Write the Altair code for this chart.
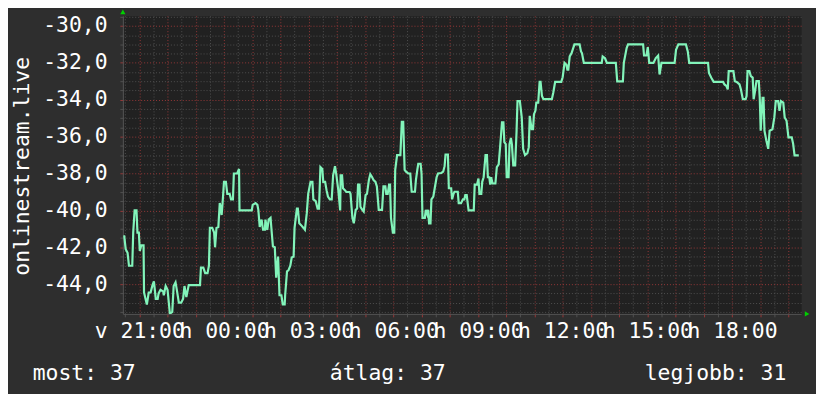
import altair as alt
import pandas as pd

# ---- data (minutes after 20:25 Sunday, value) ----
minutes = [
    1, 3, 6, 10, 13, 20, 22, 25, 29, 31, 34, 36, 39, 44, 45, 51, 55, 59, 63, 66,
    70, 74, 76, 80, 86, 87, 91, 95, 100, 105, 108, 112, 115, 119, 124, 128, 131, 135, 140, 164,
    166, 171, 175, 180, 183, 185, 190, 194, 196, 199, 203, 206, 208, 210, 212, 215, 219, 222, 227, 230,
    234, 236, 243, 247, 248, 274, 276, 282, 286, 288, 291, 293, 295, 298, 302, 303, 307, 310, 314, 316,
    319, 323, 326, 330, 333, 337, 340, 344, 345, 349, 352, 356, 359, 363, 365, 370, 372, 375, 379, 384,
    387, 391, 394, 399, 403, 405, 410, 414, 417, 420, 424, 426, 430, 433, 436, 440, 444, 447, 451, 454,
    458, 462, 463, 466, 468, 472, 475, 482, 484, 488, 491, 495, 498, 500, 503, 505, 509, 512, 516, 519,
    523, 526, 530, 533, 537, 540, 544, 551, 554, 558, 560, 563, 566, 568, 570, 574, 577, 579, 583, 590,
    593, 596, 599, 602, 607, 611, 614, 621, 623, 626, 628, 633, 635, 637, 642, 644, 647, 649, 651, 654,
    656, 660, 663, 667, 670, 677, 681, 684, 686, 691, 693, 698, 700, 703, 705, 712, 714, 719, 723, 726,
    728, 731, 734, 735, 746, 748, 753, 756, 758, 762, 764, 767, 771, 774, 776, 779, 781, 783, 786, 792,
    795, 799, 802, 806, 809, 811, 814, 816, 820, 822, 825, 827, 830, 834, 837, 839, 844, 848, 851, 855,
    860, 863, 865, 869, 872, 874, 877, 879, 883, 886, 888, 891, 894, 912, 915, 919, 932, 935, 939, 943,
    945, 947, 950, 954, 960, 971, 974, 976, 980, 1018, 1020, 1025, 1029, 1048, 1051, 1063, 1065, 1071, 1074, 1106,
    1108, 1113, 1116, 1119, 1128, 1133, 1138, 1141, 1145, 1173, 1176, 1181, 1197, 1201, 1204, 1244, 1246, 1251, 1256, 1276,
    1279, 1283, 1286, 1288, 1298, 1301, 1305, 1311, 1314, 1318, 1324, 1326, 1328, 1332, 1335, 1339, 1341, 1344, 1347, 1352,
    1354, 1356, 1360, 1362, 1364, 1368, 1372, 1375, 1381, 1385, 1388, 1393, 1396, 1399, 1404, 1407, 1411, 1415, 1422, 1425,
    1428, 1437,
]
values = [
    -41.4, -41.4, -42.1, -42.3, -43.0, -43.0, -41.2, -40.0, -40.0, -41.2, -41.2, -42.2, -41.9, -41.9, -44.45, -45.1, -44.45, -44.45, -44.05, -43.85,
    -44.8, -44.8, -44.5, -44.3, -44.4, -44.6, -44.1, -44.3, -45.6, -45.5, -44.1, -43.9, -44.35, -45.0, -45.0, -44.8, -44.1, -44.7, -44.05, -44.05,
    -43.1, -43.1, -43.4, -43.4, -43.0, -40.95, -40.95, -41.2, -42.0, -40.95, -40.9, -39.6, -39.85, -40.25, -39.6, -38.45, -38.45, -39.1, -39.1, -39.4,
    -39.4, -38.0, -38.0, -37.75, -40.0, -40.0, -39.7, -39.6, -39.7, -39.97, -40.9, -40.7, -40.5, -41.05, -41.05, -40.5, -41.05, -40.5, -40.4, -41.05,
    -41.95, -42.0, -43.65, -42.5, -44.6, -44.6, -45.1, -45.1, -44.6, -43.3, -43.25, -43.0, -42.55, -42.5, -40.95, -39.9, -39.9, -40.7, -40.8, -40.95,
    -41.05, -40.15, -39.1, -38.45, -38.45, -39.4, -39.5, -39.9, -39.9, -37.65, -37.75, -38.45, -38.45, -38.9, -39.25, -39.4, -39.4, -38.1, -37.6, -38.1,
    -38.9, -40.0, -38.1, -38.1, -38.8, -38.9, -39.0, -39.0, -39.1, -40.4, -40.7, -39.97, -39.9, -38.6, -38.6, -39.8, -39.97, -40.06, -39.17, -39.1,
    -38.36, -38.04, -38.2, -38.36, -38.45, -38.7, -39.97, -39.97, -38.7, -38.7, -39.1, -39.1, -38.6, -38.6, -40.4, -41.2, -41.2, -37.8, -37.0, -37.0,
    -35.2, -35.2, -37.8, -37.9, -38.0, -38.0, -38.99, -38.99, -38.36, -37.8, -37.47, -37.47, -38.0, -40.4, -40.4, -39.97, -40.2, -39.97, -40.7, -40.7,
    -39.4, -39.25, -38.8, -38.2, -38.0, -37.97, -37.9, -37.6, -36.97, -36.97, -38.8, -38.8, -39.4, -39.1, -38.99, -38.99, -39.6, -39.6, -39.4, -39.4,
    -39.17, -39.17, -39.8, -40.0, -40.0, -38.6, -38.6, -38.27, -39.1, -39.1, -38.45, -38.2, -37.0, -37.0, -38.2, -38.2, -38.6, -38.2, -38.54, -38.54,
    -37.65, -37.5, -36.57, -35.23, -35.23, -36.3, -36.4, -38.2, -38.2, -36.4, -36.07, -36.4, -37.56, -37.56, -35.7, -34.07, -34.07, -34.96, -36.66, -37.0,
    -36.9, -36.57, -34.87, -35.59, -35.59, -34.78, -34.6, -34.16, -34.16, -33.03, -33.03, -33.8, -33.97, -33.97, -33.62, -33.03, -33.03, -32.78, -32.0, -32.1,
    -32.37, -32.37, -31.65, -31.47, -31.0, -31.0, -31.38, -31.47, -32.0, -32.0, -31.65, -31.75, -32.0, -32.0, -33.0, -33.0, -32.0, -31.2, -31.0, -31.0,
    -31.6, -31.6, -31.15, -32.0, -32.0, -31.74, -31.6, -32.63, -32.0, -32.0, -31.29, -31.0, -31.0, -31.38, -32.0, -32.0, -32.55, -32.81, -33.03, -33.03,
    -33.17, -33.25, -33.44, -32.45, -32.45, -32.99, -33.03, -33.17, -33.44, -33.97, -33.97, -33.8, -32.45, -32.45, -32.72, -32.8, -33.97, -33.53, -32.99, -32.99,
    -33.89, -35.68, -33.89, -33.89, -35.68, -36.21, -36.66, -35.68, -35.6, -34.96, -34.07, -34.07, -34.6, -34.07, -34.16, -34.96, -35.14, -36.04, -36.04, -36.39,
    -37.02, -37.02,
]

footer_labels = ["most", "átlag", "legjobb"]
footer_values = [37, 37, 31]
y_title = "onlinestream.live"

# ---- styling ----
FONT = "DejaVu Sans Mono"
FS = 21.6
BG = "#2e2e2e"
PLOT_BG = "#212121"
MAJOR = "#963838"
MINOR = "#505050"
LINE = "#82f4ba"

start = pd.Timestamp("2023-10-15T20:25:00Z")  # a Sunday
span_min = 1442
start_ms = int(start.timestamp() * 1000)
end_ms = start_ms + span_min * 60000

df = pd.DataFrame({
    "t": [(start + pd.Timedelta(minutes=m)).strftime("%Y-%m-%dT%H:%M:%SZ") for m in minutes],
    "v": values,
})

first_tick = start_ms + 5 * 60000  # 20:30
x_ticks = [first_tick + k * 30 * 60000 for k in range(48)]
y_ticks = [-45.5 + 0.5 * k for k in range(33)]

x_axis = alt.Axis(
    values=x_ticks,
    labelExpr="utcminutes(datum.value) == 0 && utchours(datum.value) % 3 == 0 ? "
              "(utcday(datum.value) == 0 ? 'v ' : 'h ') + utcFormat(datum.value, '%H:%M') : ''",
    grid=True,
    gridColor={"condition": {"test": "utcminutes(datum.value) == 0", "value": MAJOR}, "value": MINOR},
    gridDash=[1, 2],
    gridWidth=1,
    ticks=True,
    tickSize=3,
    tickColor={"condition": {"test": "utcminutes(datum.value) == 0", "value": MAJOR}, "value": MINOR},
    domain=True,
    domainColor="#555555",
    labelFont=FONT,
    labelFontSize=FS,
    labelColor="#ffffff",
    labelPadding=21,
    labelBaseline="alphabetic",
    labelAlign="center",
    labelOverlap=False,
    labelFlush=False,
    labelBound=False,
    title=None,
)

y_axis = alt.Axis(
    values=y_ticks,
    labelExpr="datum.value % 2 == 0 ? (datum.value < 0 ? '-' : '') + "
              "replace(format(abs(datum.value), '.1f'), '.', ',') : ''",
    grid=True,
    gridColor={"condition": {"test": "datum.value % 2 == 0", "value": MAJOR}, "value": MINOR},
    gridDash=[1, 2],
    gridWidth=1,
    ticks=True,
    tickSize=3,
    tickColor={"condition": {"test": "datum.value % 2 == 0", "value": MAJOR}, "value": MINOR},
    domain=True,
    domainColor="#555555",
    labelFont=FONT,
    labelFontSize=FS,
    labelColor="#ffffff",
    labelPadding=13,
    labelBaseline="middle",
    labelOverlap=False,
    labelFlush=False,
    labelBound=False,
    title=y_title,
    titleFont=FONT,
    titleFontSize=FS,
    titleFontWeight="normal",
    titleColor="#ffffff",
    titleAngle=270,
    titleAlign="center",
    titleBaseline="alphabetic",
    titleX=-95,
    titleY=151.5,
)

line = alt.Chart(df).mark_line(color=LINE, strokeWidth=2.2, clip=True, interpolate="linear").encode(
    x=alt.X("t:T", scale=alt.Scale(type="utc", domain=[start_ms, end_ms], nice=False), axis=x_axis),
    y=alt.Y("v:Q", scale=alt.Scale(domain=[-45.61, -29.45], nice=False, zero=False), axis=y_axis),
)

one = pd.DataFrame({"a": [0]})
arrow_up = alt.Chart(one).mark_point(shape="triangle-up", filled=True, color="#00d000", opacity=1, size=28).encode(
    x=alt.value(0), y=alt.value(-4)
)
arrow_right = alt.Chart(one).mark_point(shape="triangle-right", filled=True, color="#00d000", opacity=1, size=28).encode(
    x=alt.value(691), y=alt.value(301)
)

footer_x = [-91, 209, 527]
footers = []
for lab, val, fx in zip(footer_labels, footer_values, footer_x):
    fdf = pd.DataFrame({"txt": [f"{lab}: {val}"]})
    footers.append(
        alt.Chart(fdf).mark_text(
            font=FONT, fontSize=FS, color="#ffffff", align="left", baseline="alphabetic"
        ).encode(x=alt.value(fx), y=alt.value(368), text="txt:N")
    )

chart = alt.layer(line, arrow_up, arrow_right, *footers).properties(
    width=685,
    height=301,
    autosize=alt.AutoSizeParams(type="none"),
    padding={"left": 116, "top": 6, "right": 15, "bottom": 79},
).configure(background=BG).configure_view(fill=PLOT_BG, stroke="transparent")

chart.save("out.html", embed_options={"renderer": "svg", "actions": False})
